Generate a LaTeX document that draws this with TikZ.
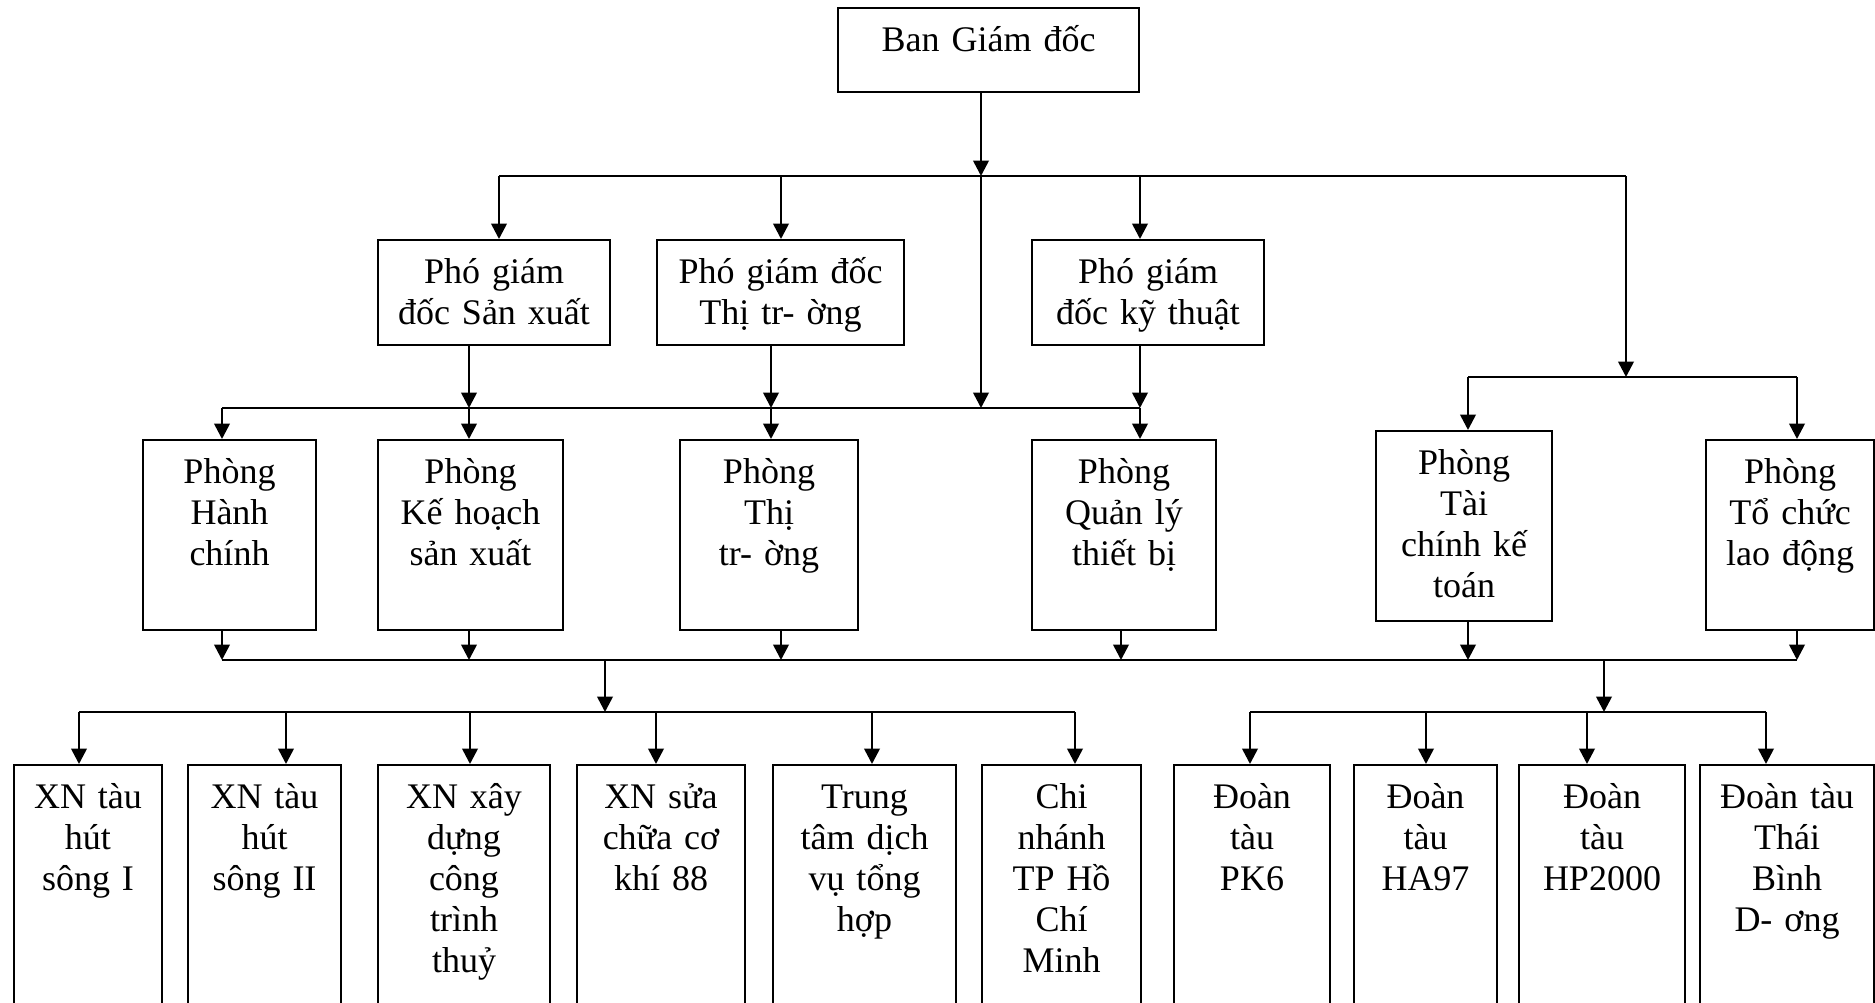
\documentclass[tikz,border=0pt]{standalone}
\usepackage{fontspec}
\setmainfont{Liberation Serif}
\usetikzlibrary{arrows.meta}

\begin{document}
\begin{tikzpicture}[
    x=0.4pt, y=-0.4pt,
    >={Triangle[width=6.2pt,length=6.2pt]},
    font=\fontsize{14.4}{16.4}\selectfont,
    wire/.style={line width=1.05pt},
    arr/.style={wire, ->},
    unit/.style={draw, line width=0.8pt, anchor=north west, inner sep=0pt, align=center, text height=17.2pt},
    head/.style={unit, text depth=16.4pt},
    vice/.style={unit, text depth=24.8pt},
    dept/.style={unit, text depth=58.8pt},
    site/.style={unit, text depth=81.2pt},
]
\useasboundingbox (0,0) rectangle (1875,1002);
\clip (0,0) rectangle (1875,1002);

% ban giam doc, pho giam doc
\node[head, text width=120.4pt] (bgd) at (837,7) {Ban Giám đốc};
\node[vice, text width=92.8pt] (pgdsx) at (377,239) {Phó giám\\đốc Sản xuất};
\node[vice, text width=98.8pt] (pgdtt) at (656,239) {Phó giám đốc\\Thị tr- ờng};
\node[vice, text width=92.8pt] (pgdkt) at (1031,239) {Phó giám\\đốc kỹ thuật};

% phong ban
\node[dept, text width=69.2pt] (phc) at (142,439) {Phòng\\Hành\\chính};
\node[dept, text width=74pt] (pkh) at (377,439) {Phòng\\Kế hoạch\\sản xuất};
\node[dept, text width=71.2pt] (ptt) at (679,439) {Phòng\\Thị\\tr- ờng};
\node[dept, text width=73.6pt] (pql) at (1031,439) {Phòng\\Quản lý\\thiết bị};
\node[dept, text width=70.4pt] (ptc) at (1375,430) {Phòng\\Tài\\chính kế\\toán};
\node[dept, text width=67.2pt] (pld) at (1705,439) {Phòng\\Tổ chức\\lao động};

% xi nghiep, doan tau
\node[site, text width=59.2pt] (xn1) at (13,764) {XN tàu\\hút\\sông I};
\node[site, text width=61.2pt] (xn2) at (187,764) {XN tàu\\hút\\sông II};
\node[site, text width=68.8pt] (xnxd) at (377,764) {XN xây\\dựng\\công\\trình\\thuỷ};
\node[site, text width=67.2pt] (xnsc) at (576,764) {XN sửa\\chữa cơ\\khí 88};
\node[site, text width=73.2pt] (ttdv) at (772,764) {Trung\\tâm dịch\\vụ tổng\\hợp};
\node[site, text width=63.6pt] (cnhcm) at (981,764) {Chi\\nhánh\\TP Hồ\\Chí\\Minh};
\node[site, text width=62.4pt] (pk6) at (1173,764) {Đoàn\\tàu\\PK6};
\node[site, text width=57.2pt] (ha97) at (1353,764) {Đoàn\\tàu\\HA97};
\node[site, text width=66.4pt] (hp2000) at (1518,764) {Đoàn\\tàu\\HP2000};
\node[site, text width=69.6pt] (tbd) at (1699,764) {Đoàn tàu\\Thái\\Bình\\D- ơng};

% tang 1
\coordinate (j0) at (981,176);
\coordinate (j1) at (981,408);
\coordinate (t1) at (499,176);
\coordinate (t2) at (781,176);
\coordinate (t3) at (1140,176);
\coordinate (t4) at (1626,176);
\coordinate (r0) at (1626,377);
\draw[wire] (t1) -- (t4);
\draw[arr] (bgd.south -| j0) -- (j0);
\draw[arr] (j0) -- (j1);
\draw[arr] (t1) -- (t1 |- pgdsx.north);
\draw[arr] (t2) -- (t2 |- pgdtt.north);
\draw[arr] (t3) -- (t3 |- pgdkt.north);
\draw[arr] (t4) -- (r0);

% nhanh phai
\coordinate (r1) at (1468,377);
\coordinate (r2) at (1797,377);
\draw[wire] (r1) -- (r2);
\draw[arr] (r1) -- (r1 |- ptc.north);
\draw[arr] (r2) -- (r2 |- pld.north);

% tang 2
\coordinate (m1) at (222,408);
\coordinate (m2) at (469,408);
\coordinate (m3) at (771,408);
\coordinate (m4) at (1140,408);
\draw[wire] (m1) -- (m4);
\draw[arr] (m2 |- pgdsx.south) -- (m2);
\draw[arr] (m3 |- pgdtt.south) -- (m3);
\draw[arr] (m4 |- pgdkt.south) -- (m4);
\foreach \c/\n in {m1/phc, m2/pkh, m3/ptt, m4/pql}
    \draw[arr] (\c) -- (\c |- \n.north);

% duong gom
\coordinate (c1) at (222,660);
\coordinate (c2) at (469,660);
\coordinate (c3) at (781,660);
\coordinate (c4) at (1121,660);
\coordinate (c5) at (1468,660);
\coordinate (c6) at (1797,660);
\draw[wire] (c1) -- (c6);
\foreach \c/\n in {c1/phc, c2/pkh, c3/ptt, c4/pql, c5/ptc, c6/pld}
    \draw[arr] (\c |- \n.south) -- (\c);
\coordinate (c7) at (605,660);
\coordinate (c8) at (1604,660);
\coordinate (s0) at (605,712);
\coordinate (e0) at (1604,712);
\draw[arr] (c7) -- (s0);
\draw[arr] (c8) -- (e0);

% tang 3
\coordinate (s1) at (79,712);
\coordinate (s6) at (1075,712);
\coordinate (e1) at (1250,712);
\coordinate (e4) at (1766,712);
\draw[wire] (s1) -- (s6);
\draw[wire] (e1) -- (e4);
\foreach \x/\n in {79/xn1, 286/xn2, 470/xnxd, 656/xnsc, 872/ttdv, 1075/cnhcm,
                   1250/pk6, 1426/ha97, 1587/hp2000, 1766/tbd} {
    \coordinate (d\n) at (\x,712);
    \draw[arr] (d\n) -- (d\n |- \n.north);
}
\end{tikzpicture}
\end{document}
